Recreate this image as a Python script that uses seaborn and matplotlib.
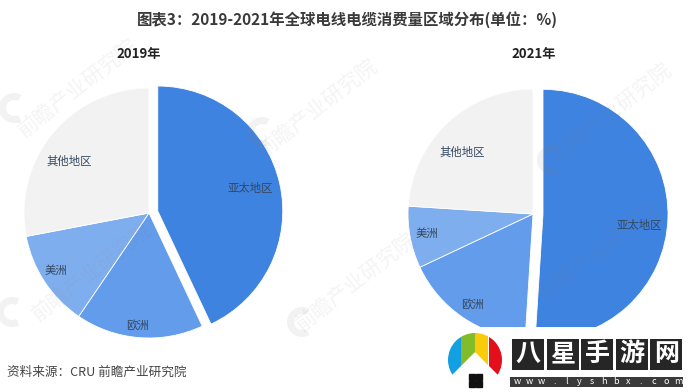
#!/usr/bin/env python3

from matplotlib import pyplot as plt
from matplotlib.patches import Circle, Rectangle, Wedge
import seaborn as sns

regions = ["亚太地区", "欧洲", "美洲", "其他地区"]
share_2019 = [43, 16.5, 12.5, 28]
share_2021 = [51, 17, 8, 24]
colors = ["#3F83E0", "#629CEB", "#7FAEEE", "#F2F2F2"]

title = "图表3：2019-2021年全球电线电缆消费量区域分布(单位：%)"
source = "资料来源：CRU 前瞻产业研究院"
mark = "前瞻产业研究院"
site_name = "八星手游网"
site_url = "www.lyshbx.com"

sns.set_theme(style="white")
plt.rcParams["font.family"] = ["Noto Sans CJK SC", "DejaVu Sans"]

W, H = 694, 392
fig = plt.figure(figsize=(W / 100, H / 100), dpi=100, facecolor="white")


def pixel_axes(zorder):
    # full figure axes, data units are pixels from the top left
    ax = fig.add_axes([0, 0, 1, 1], zorder=zorder)
    ax.set_xlim(0, W)
    ax.set_ylim(H, 0)
    ax.axis("off")
    return ax


# watermarks, sit faintly over the pies
over = pixel_axes(5)
for x, y in [(78, 88), (318, 108), (92, 272), (356, 282), (612, 112), (600, 250)]:
    over.text(x, y, mark, fontsize=15, rotation=38, color="#808080", alpha=0.09,
              ha="center", va="center", rotation_mode="anchor")
for x, y in [(14, 108), (262, 132), (12, 312), (302, 322), (552, 160)]:
    over.add_patch(Wedge((x, y), 15, 60, 300, width=7, facecolor="#808080", alpha=0.1,
                         edgecolor="none"))


def pie_chart(cx, cy, r, values, label_pos, gap):
    # axes sized so that data units are pixels, centered on the pie
    ax = fig.add_axes([(cx - 150) / W, 1 - (cy + 150) / H, 300 / W, 300 / H], zorder=2)
    ax.set_facecolor("none")
    ax.pie(values, colors=colors, startangle=90, counterclock=False, radius=r,
           explode=[gap, 0, 0, 0], wedgeprops={"linewidth": 0.6, "edgecolor": "#FFFFFF"})
    ax.set_xlim(-150, 150)
    ax.set_ylim(-150, 150)
    ax.set_aspect("equal")
    for name, (x, y) in zip(regions, label_pos):
        ax.text(x, y, name, fontsize=8.2, color="#33475F", ha="center", va="center")


pie_chart(149, 213, 125, share_2019,
          [(101, 24), (-11, -112), (-93, -58), (-80, 52)], 9)
pie_chart(533, 214, 125, share_2021,
          [(106, -11), (-60, -90), (-106, -20), (-71, 62)], 10)

fig.text(347 / W, 1 - 20 / H, title, fontsize=11.1, fontweight="bold", color="#3A3A3A",
         ha="center", va="center")
fig.text(139 / W, 1 - 54 / H, "2019年", fontsize=9.5, fontweight="bold", color="#222222",
         ha="center", va="center")
fig.text(534 / W, 1 - 54 / H, "2021年", fontsize=9.5, fontweight="bold", color="#222222",
         ha="center", va="center")
fig.text(7 / W, 1 - 372 / H, source, fontsize=9.1, color="#444444", ha="left", va="center")

# white block of the site stamp cuts off the pie, then the stamp itself
top = pixel_axes(6)
top.add_patch(Rectangle((430, 327), 264, 65, facecolor="white", edgecolor="none"))

# logo is a disc cut in four upright bands
disc = Circle((475, 360), 27, transform=top.transData)
for x, c in [(448, "#12A0E3"), (461.5, "#84BC29"), (475, "#F9CB0A"), (489, "#E3101B")]:
    band = Rectangle((x, 333), 13.5, 45, facecolor=c, edgecolor="none")
    top.add_patch(band)
    band.set_clip_path(disc)
top.fill([447, 475, 503, 503, 447], [381, 353, 381, 392, 392], color="white", zorder=3)
for i in range(2):
    for j in range(2):
        top.add_patch(Rectangle((469 + 7 * i, 374 + 7 * j), 6, 6, color="#111111", zorder=4))

for i, ch in enumerate(site_name):
    x = 512 + i * 34.6
    top.add_patch(Rectangle((x, 339), 32, 31, facecolor="#262626", edgecolor="none"))
    top.text(x + 16, 354, ch, color="white", fontsize=18, fontweight="bold",
             ha="center", va="center")
top.add_patch(Rectangle((510, 377), 173, 10, facecolor="#3A3A3A", edgecolor="none"))
for i, ch in enumerate(site_url):
    top.text(517 + i * 12.4, 381.5, ch, color="white", fontsize=6.5, ha="center", va="center")

fig.savefig("out.png", dpi=100)
